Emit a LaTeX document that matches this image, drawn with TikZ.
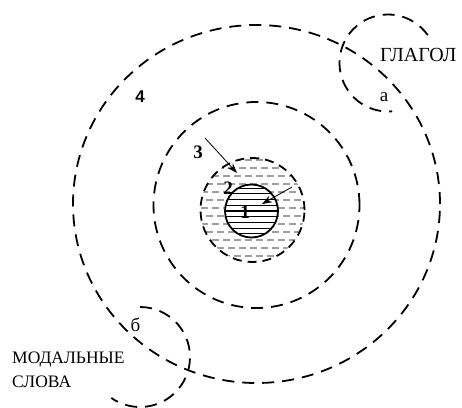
\documentclass[tikz,border=0pt]{standalone}
\usepackage{fontspec}
\setmainfont{Liberation Serif}
\newfontfamily\sansbold{Liberation Sans}
\usetikzlibrary{arrows.meta}
\begin{document}
\begin{tikzpicture}[x=1pt,y=1pt,
  ring/.style={line width=1.8pt, dash pattern=on 12pt off 8pt},
  smallring/.style={line width=1.8pt, dash pattern=on 9pt off 6pt},
  label/.style={inner sep=0pt, font=\fontsize{19}{24}\selectfont},
  num/.style={inner sep=0pt, font=\fontsize{19}{24}\selectfont\bfseries},
  pointer/.style={line width=0.8pt, -{Stealth[length=10pt,width=7pt]}},
  hatchgray/.style={draw=black!38, line width=1.2pt, dash pattern=on 7pt off 4pt},
  hatchblack/.style={draw=black, line width=1.2pt}]
\useasboundingbox (0,0) rectangle (462,407);

% region 2: gray dashed hatching
\begin{scope}
  \clip (252.5,197) circle (52);
  \foreach \k in {0,...,14}{
    \pgfmathsetmacro\ph{mod(\k,2)*5}
    \draw[hatchgray, dash phase=\ph pt] (195,143+\k*8) -- (312,143+\k*8);
  }
\end{scope}
% region 1: black hatching
\begin{scope}
  \clip (251.5,196) circle (26.5);
  \fill[white] (251.5,196) circle (26.5);
  \foreach \k in {-5,...,5}{
    \draw[hatchblack] (220,196+\k*5.7) -- (285,196+\k*5.7);
  }
\end{scope}

% circles
\draw[ring] (256.5,203) ellipse (183.5 and 179);
\draw[ring] (256.5,202) circle (103);
\draw[smallring] (252.5,197) circle (52);
\draw[line width=1.8pt] (251.5,196) circle (26.5);

% side circles
\draw[ring] (388,344) ++(35:48.5) arc (35:275:48.5);
\draw[ring] (140,50) ++(90:50) arc (90:-125:50);

% labels
\node[label, font=\fontsize{20}{24}\selectfont, anchor=base west] (glagol) at (380,345) {ГЛАГОЛ};
\node[label, anchor=base] (a) at (384,305) {а};
\node[label, anchor=base] (b) at (135.5,76) {б};
\node[label, font=\fontsize{17.5}{24}\selectfont, anchor=base west, align=left] (modal) at (12,20) {МОДАЛЬНЫЕ\\СЛОВА};

\node[inner sep=0pt, font=\sansbold\fontsize{17}{20}\selectfont\bfseries] (n4) at (140,310) {4};
\node[num] (n3) at (198,255) {3};
\node[num] (n2) at (228,219) {2};
\node[num] (n1) at (245,195) {1};

% arrows
\coordinate (a1s) at (205,269);
\coordinate (a1e) at (237,234);
\coordinate (a2s) at (292,220);
\coordinate (a2e) at (262,203);
\draw[pointer] (a1s) -- (a1e);
\draw[pointer] (a2s) -- (a2e);
\end{tikzpicture}
\end{document}
